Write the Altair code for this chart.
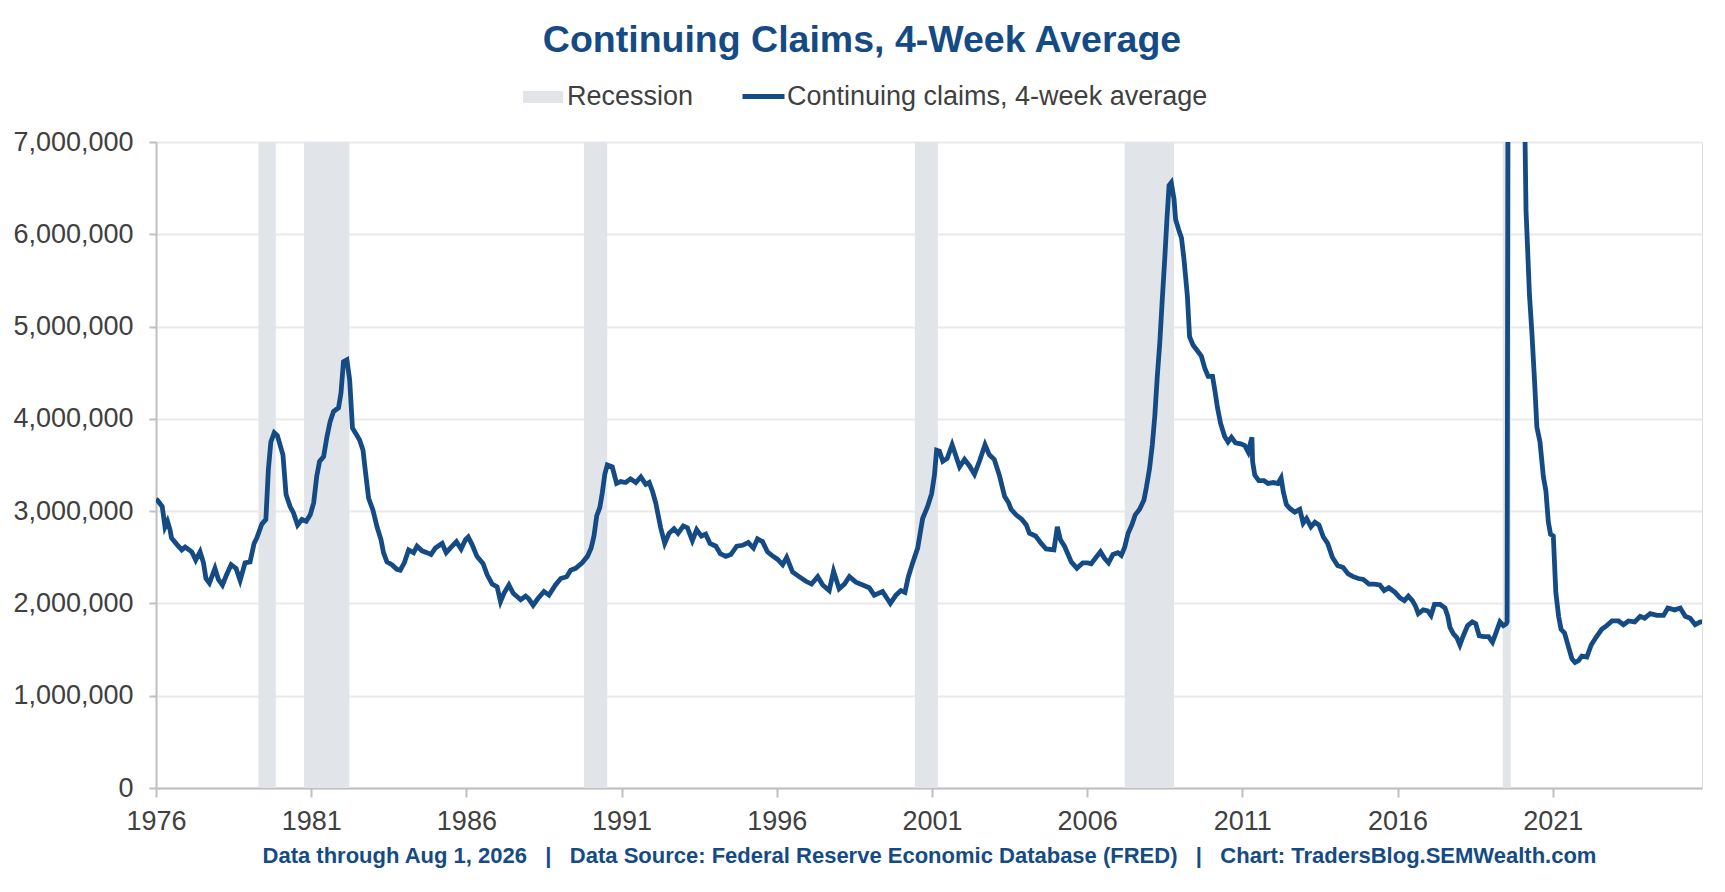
import altair as alt
import pandas as pd

# ---- data (chart years, values in millions) ----
claim_years = [
    1976.00, 1976.04, 1976.20, 1976.29, 1976.37, 1976.45, 1976.50, 1976.67, 1976.83, 1976.94,
    1977.15, 1977.28, 1977.42, 1977.53, 1977.61, 1977.72, 1977.90, 1978.01, 1978.14, 1978.26,
    1978.42, 1978.58, 1978.71, 1978.87, 1979.03, 1979.16, 1979.25, 1979.41, 1979.54, 1979.62,
    1979.70, 1979.81, 1979.91, 1980.09, 1980.19, 1980.32, 1980.43, 1980.56, 1980.70, 1980.84,
    1980.97, 1981.08, 1981.18, 1981.27, 1981.40, 1981.51, 1981.61, 1981.72, 1981.88, 1981.96,
    1982.04, 1982.15, 1982.24, 1982.33, 1982.44, 1982.56, 1982.67, 1982.74, 1982.85, 1982.99,
    1983.12, 1983.25, 1983.33, 1983.44, 1983.60, 1983.76, 1983.87, 1984.00, 1984.14, 1984.30,
    1984.41, 1984.57, 1984.73, 1984.86, 1985.00, 1985.22, 1985.35, 1985.48, 1985.68, 1985.83,
    1985.97, 1986.06, 1986.18, 1986.34, 1986.54, 1986.67, 1986.83, 1986.99, 1987.10, 1987.21,
    1987.37, 1987.51, 1987.75, 1987.91, 1988.01, 1988.15, 1988.30, 1988.50, 1988.66, 1988.87,
    1989.04, 1989.23, 1989.36, 1989.52, 1989.73, 1989.90, 1990.02, 1990.11, 1990.20, 1990.30,
    1990.38, 1990.46, 1990.54, 1990.70, 1990.84, 1990.97, 1991.13, 1991.29, 1991.46, 1991.62,
    1991.78, 1991.89, 1992.00, 1992.10, 1992.26, 1992.39, 1992.53, 1992.69, 1992.82, 1992.99,
    1993.12, 1993.28, 1993.42, 1993.57, 1993.71, 1993.85, 1994.04, 1994.18, 1994.36, 1994.52,
    1994.71, 1994.90, 1995.08, 1995.25, 1995.38, 1995.54, 1995.70, 1995.84, 1996.02, 1996.19,
    1996.32, 1996.51, 1996.72, 1996.94, 1997.12, 1997.32, 1997.48, 1997.69, 1997.83, 1998.01,
    1998.18, 1998.34, 1998.55, 1998.77, 1998.98, 1999.14, 1999.41, 1999.66, 1999.84, 2000.00,
    2000.13, 2000.24, 2000.38, 2000.54, 2000.70, 2000.86, 2000.99, 2001.08, 2001.15, 2001.24,
    2001.35, 2001.49, 2001.65, 2001.78, 2001.89, 2002.05, 2002.21, 2002.37, 2002.53, 2002.71,
    2002.85, 2003.01, 2003.18, 2003.34, 2003.47, 2003.55, 2003.71, 2003.90, 2004.04, 2004.14,
    2004.34, 2004.52, 2004.68, 2004.93, 2005.04, 2005.14, 2005.27, 2005.49, 2005.67, 2005.86,
    2006.02, 2006.13, 2006.29, 2006.43, 2006.56, 2006.69, 2006.83, 2006.99, 2007.10, 2007.21,
    2007.32, 2007.44, 2007.55, 2007.69, 2007.83, 2007.91, 2008.01, 2008.10, 2008.18, 2008.26,
    2008.34, 2008.42, 2008.50, 2008.57, 2008.64, 2008.71, 2008.80, 2008.85, 2008.95, 2009.04,
    2009.12, 2009.23, 2009.30, 2009.41, 2009.57, 2009.68, 2009.79, 2009.90, 2010.04, 2010.11,
    2010.20, 2010.30, 2010.43, 2010.54, 2010.65, 2010.78, 2010.95, 2011.08, 2011.19, 2011.27,
    2011.31, 2011.33, 2011.40, 2011.53, 2011.70, 2011.83, 2011.99, 2012.15, 2012.25, 2012.32,
    2012.42, 2012.53, 2012.69, 2012.85, 2012.96, 2013.07, 2013.21, 2013.34, 2013.47, 2013.61,
    2013.75, 2013.90, 2014.07, 2014.25, 2014.41, 2014.57, 2014.74, 2014.90, 2015.08, 2015.25,
    2015.43, 2015.57, 2015.72, 2015.92, 2016.08, 2016.22, 2016.35, 2016.48, 2016.58, 2016.67,
    2016.83, 2016.97, 2017.08, 2017.19, 2017.37, 2017.53, 2017.62, 2017.69, 2017.80, 2017.91,
    2018.01, 2018.12, 2018.26, 2018.41, 2018.52, 2018.63, 2018.77, 2018.93, 2019.06, 2019.16,
    2019.30, 2019.41, 2019.50, 2019.53, 2019.58, 2019.63, 2019.72, 2019.82, 2019.95, 2020.05,
    2020.11, 2020.14, 2020.20, 2020.25, 2020.33, 2020.41, 2020.49, 2020.59, 2020.70, 2020.78,
    2020.86, 2020.93, 2021.02, 2021.10, 2021.19, 2021.27, 2021.38, 2021.49, 2021.62, 2021.72,
    2021.83, 2021.94, 2022.10, 2022.24, 2022.39, 2022.58, 2022.74, 2022.91, 2023.12, 2023.28,
    2023.44, 2023.64, 2023.82, 2023.96, 2024.14, 2024.36, 2024.57, 2024.71, 2024.93, 2025.11,
    2025.27, 2025.43, 2025.59, 2025.76, 2025.81,
]
claims_millions = [
    3.13, 3.12, 3.05, 2.83, 2.89, 2.80, 2.71, 2.64, 2.58, 2.61,
    2.56, 2.47, 2.56, 2.44, 2.27, 2.22, 2.38, 2.26, 2.20, 2.30,
    2.42, 2.38, 2.25, 2.44, 2.45, 2.65, 2.71, 2.86, 2.91, 3.45,
    3.75, 3.85, 3.82, 3.61, 3.18, 3.05, 2.98, 2.85, 2.91, 2.89,
    2.96, 3.09, 3.38, 3.54, 3.59, 3.81, 3.97, 4.08, 4.12, 4.28,
    4.62, 4.64, 4.42, 3.90, 3.84, 3.77, 3.66, 3.45, 3.14, 3.01,
    2.83, 2.69, 2.55, 2.45, 2.42, 2.37, 2.36, 2.44, 2.58, 2.55,
    2.62, 2.57, 2.55, 2.53, 2.60, 2.65, 2.55, 2.60, 2.67, 2.59,
    2.69, 2.72, 2.64, 2.51, 2.43, 2.31, 2.21, 2.18, 2.02, 2.11,
    2.20, 2.11, 2.04, 2.08, 2.05, 1.98, 2.05, 2.13, 2.09, 2.20,
    2.27, 2.29, 2.36, 2.38, 2.44, 2.51, 2.60, 2.73, 2.95, 3.04,
    3.20, 3.40, 3.50, 3.48, 3.30, 3.32, 3.31, 3.35, 3.31, 3.37,
    3.29, 3.31, 3.21, 3.09, 2.82, 2.65, 2.76, 2.81, 2.76, 2.84,
    2.82, 2.68, 2.80, 2.73, 2.75, 2.65, 2.62, 2.54, 2.51, 2.53,
    2.62, 2.63, 2.66, 2.60, 2.70, 2.67, 2.56, 2.52, 2.48, 2.42,
    2.50, 2.34, 2.29, 2.24, 2.21, 2.29, 2.20, 2.14, 2.35, 2.16,
    2.21, 2.29, 2.23, 2.20, 2.17, 2.09, 2.13, 2.00, 2.09, 2.14,
    2.12, 2.29, 2.44, 2.60, 2.92, 3.05, 3.19, 3.39, 3.66, 3.65,
    3.54, 3.57, 3.72, 3.59, 3.48, 3.56, 3.49, 3.40, 3.54, 3.72,
    3.61, 3.56, 3.38, 3.16, 3.09, 3.02, 2.96, 2.91, 2.85, 2.76,
    2.73, 2.65, 2.59, 2.58, 2.83, 2.69, 2.62, 2.45, 2.38, 2.44,
    2.44, 2.43, 2.50, 2.56, 2.49, 2.44, 2.53, 2.55, 2.52, 2.61,
    2.76, 2.85, 2.96, 3.02, 3.12, 3.26, 3.46, 3.72, 4.03, 4.46,
    4.82, 5.29, 5.73, 6.16, 6.53, 6.56, 6.38, 6.16, 6.05, 5.96,
    5.73, 5.33, 4.89, 4.80, 4.73, 4.68, 4.55, 4.46, 4.46, 4.32,
    4.12, 3.95, 3.81, 3.75, 3.80, 3.74, 3.73, 3.71, 3.64, 3.75,
    3.80, 3.54, 3.39, 3.33, 3.33, 3.30, 3.31, 3.30, 3.36, 3.21,
    3.07, 3.03, 2.99, 3.02, 2.87, 2.92, 2.83, 2.88, 2.85, 2.72,
    2.65, 2.50, 2.41, 2.39, 2.32, 2.29, 2.27, 2.26, 2.21, 2.21,
    2.20, 2.14, 2.17, 2.12, 2.06, 2.03, 2.08, 2.03, 1.97, 1.89,
    1.93, 1.92, 1.87, 1.99, 1.99, 1.95, 1.86, 1.74, 1.67, 1.63,
    1.55, 1.65, 1.76, 1.80, 1.78, 1.65, 1.64, 1.64, 1.58, 1.67,
    1.80, 1.76, 1.78, 1.80, 12.0, 22.0, 23.0, 20.0, 14.0, 9.3,
    7.00, 6.26, 5.77, 5.35, 4.93, 4.44, 3.91, 3.75, 3.37, 3.22,
    2.88, 2.75, 2.73, 2.12, 1.86, 1.72, 1.68, 1.55, 1.40, 1.36,
    1.38, 1.43, 1.42, 1.55, 1.63, 1.72, 1.76, 1.81, 1.81, 1.77,
    1.81, 1.80, 1.86, 1.84, 1.89, 1.87, 1.87, 1.95, 1.93, 1.95,
    1.86, 1.84, 1.77, 1.80, 1.80,
]

recession_start = [1979.30, 1980.77, 1989.79, 2000.45, 2007.21, 2019.39]
recession_end = [1979.86, 1982.23, 1990.54, 2001.19, 2008.80, 2019.65]

x_tick_values = [1976, 1981, 1986, 1991, 1996, 2001, 2006, 2011, 2016, 2021]
y_tick_values = [0, 1000000, 2000000, 3000000, 4000000, 5000000, 6000000, 7000000]
x_domain = [1976, 2025.81]
y_domain = [0, 7000000]

TITLE = "Continuing Claims, 4-Week Average"
SERIES = "Continuing claims, 4-week average"
REC_LABEL = "Recession"
SP = "\u00a0\u00a0\u00a0"
FOOTER = ("Data through Aug 1, 2026" + SP + "|" + SP +
          "Data Source: Federal Reserve Economic Database (FRED)" + SP + "|" + SP +
          "Chart: TradersBlog.SEMWealth.com")

# ---- styles ----
BLUE = "#154B85"
BAND = "#E1E5E9"
TEXT = "#404040"
AXIS = "#BFBFBF"
GRID = "#E9E9E9"
FONT = "Liberation Sans"

claims = pd.DataFrame({
    "year": claim_years,
    "claims": [v * 1_000_000 for v in claims_millions],
    "series": SERIES,
})
rec = pd.DataFrame({
    "start": recession_start,
    "end": recession_end,
    "label": REC_LABEL,
    "lo": y_domain[0],
    "hi": y_domain[1],
})

x_scale = alt.Scale(domain=x_domain, nice=False, zero=False)
y_scale = alt.Scale(domain=y_domain, nice=False)

x_axis = alt.Axis(
    values=x_tick_values, format="d", grid=False, labelFlush=False, labelOverlap=False,
    tickSize=9, tickColor=AXIS, tickWidth=2, domainColor=AXIS, domainWidth=2,
    labelFont=FONT, labelFontSize=27, labelColor=TEXT, labelPadding=11,
    title=FOOTER, titleFont=FONT, titleFontSize=22, titleFontWeight="bold",
    titleColor=BLUE, titleBaseline="alphabetic", titleY=74,
)
y_axis = alt.Axis(
    values=y_tick_values, format=",d", grid=True, gridColor=GRID, gridWidth=2,
    tickSize=7, tickColor=AXIS, tickWidth=2, domainColor=AXIS, domainWidth=2,
    labelFont=FONT, labelFontSize=27, labelColor=TEXT, labelPadding=16,
    title=None,
)

bands = alt.Chart(rec).mark_rect(opacity=1).encode(
    x=alt.X("start:Q", scale=x_scale, axis=x_axis),
    x2="end:Q",
    y=alt.Y("lo:Q", scale=y_scale, axis=y_axis),
    y2="hi:Q",
    fill=alt.Fill(
        "label:N",
        scale=alt.Scale(domain=[REC_LABEL], range=[BAND]),
        legend=alt.Legend(
            orient="none", legendX=367, legendY=-65, title=None,
            symbolType="M-1,-0.3L1,-0.3L1,0.3L-1,0.3Z", symbolSize=1600,
            symbolStrokeWidth=0, symbolOpacity=1, labelLimit=0,
            labelFont=FONT, labelFontSize=27, labelColor=TEXT, labelOffset=4,
        ),
    ),
)

line = alt.Chart(claims).mark_line(strokeWidth=4.8, clip=True).encode(
    x=alt.X("year:Q", scale=x_scale, axis=x_axis),
    y=alt.Y("claims:Q", scale=y_scale, axis=y_axis),
    stroke=alt.Stroke(
        "series:N",
        scale=alt.Scale(domain=[SERIES], range=[BLUE]),
        legend=alt.Legend(
            orient="none", legendX=584, legendY=-69, title=None,
            symbolType="stroke", symbolSize=1764, symbolStrokeWidth=4.8,
            labelLimit=0,
            labelFont=FONT, labelFontSize=27, labelColor=TEXT, labelOffset=0,
        ),
    ),
)

chart = alt.layer(bands, line).properties(
    width=1546,
    height=646,
    autosize=alt.AutoSizeParams(type="none"),
    padding={"left": 148, "top": 134, "right": 10, "bottom": 90},
    title=alt.TitleParams(
        text=TITLE, font=FONT, fontSize=37.5, fontWeight="bold", color=BLUE,
        anchor="middle", dx=-67, offset=14,
    ),
).configure_view(stroke=None).configure(background="white")

chart.save("out.html", embed_options={"renderer": "svg", "actions": False})
